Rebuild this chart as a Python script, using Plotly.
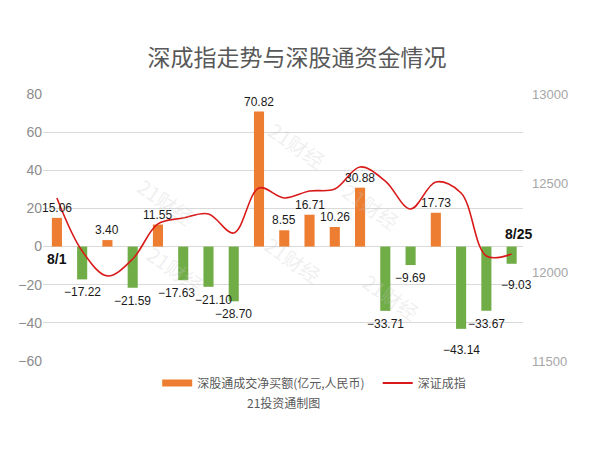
import plotly.graph_objects as go
from plotly.subplots import make_subplots

# trading days, August
dates = ["8/1", "8/2", "8/3", "8/4", "8/7", "8/8", "8/9", "8/10", "8/11", "8/14",
         "8/15", "8/16", "8/17", "8/18", "8/21", "8/22", "8/23", "8/24", "8/25"]

# net buy via Shenzhen-HK connect (100 million yuan)
net_buy = [15.06, -17.22, 3.40, -21.59, 11.55, -17.63, -21.10, -28.70, 70.82, 8.55,
           16.71, 10.26, 30.88, -33.71, -9.69, 17.73, -43.14, -33.67, -9.03]

# Shenzhen component index
szci = [12416, 12118, 11978, 12073, 12270, 12303, 12326, 12219, 12472, 12416,
        12455, 12466, 12590, 12511, 12354, 12506, 12444, 12090, 12101]

left_ticks = [-60, -40, -20, 0, 20, 40, 60, 80]
right_ticks = [11500, 12000, 12500, 13000]

ORANGE = "#ED7D31"
GREEN = "#70AD47"
RED = "#D91A1A"
GREY = "#8C8C8C"

bar_colors = [ORANGE if v >= 0 else GREEN for v in net_buy]
labels = ["%.2f" % v if v >= 0 else "\u2212%.2f" % abs(v) for v in net_buy]
xs = list(range(len(dates)))

# a few labels are nudged in the original so they don't collide (px)
label_dx = {5: -7, 6: 5, 18: 5}
label_dy = {16: -8, 18: -8}

fig = make_subplots(specs=[[{"secondary_y": True}]])

fig.add_trace(go.Bar(
    x=xs, y=net_buy,
    marker=dict(color=bar_colors, line=dict(width=0)),
    showlegend=False,
), secondary_y=False)

fig.add_trace(go.Scatter(
    x=xs, y=szci, mode="lines",
    line=dict(color=RED, width=1.6, shape="spline", smoothing=1.0),
    showlegend=False,
), secondary_y=True)

# legend entries (wide orange swatch like the original)
fig.add_trace(go.Scatter(x=[None], y=[None], mode="lines",
                         line=dict(color=ORANGE, width=7),
                         name="深股通成交净买额(亿元,人民币)\u00a0\u00a0\u00a0"), secondary_y=False)
fig.add_trace(go.Scatter(x=[None], y=[None], mode="lines",
                         line=dict(color=RED, width=2),
                         name="深证成指"), secondary_y=True)

# data labels
for i, (v, t) in enumerate(zip(net_buy, labels)):
    pos = v >= 0
    fig.add_annotation(x=i, y=v, text=t, showarrow=False,
                       yanchor="bottom" if pos else "top",
                       xshift=label_dx.get(i, 0),
                       yshift=(1 if pos else -4) + label_dy.get(i, 0),
                       font=dict(size=12, color="#1a1a1a", family="Liberation Sans"))

# watermark
for wx, wy in [(0.18, 0.72), (0.2, 0.22), (0.53, 0.93), (0.52, 0.38), (0.76, 0.58), (0.8, 0.12)]:
    fig.add_annotation(x=wx, y=wy, xref="paper", yref="paper", text="21财经",
                       showarrow=False, textangle=35,
                       font=dict(size=20, color="rgba(200,200,200,0.28)", family="Noto Sans CJK SC"))

fig.add_annotation(x=0, y=-1.5, text="<b>8/1</b>", showarrow=False,
                   xanchor="center", yanchor="top",
                   font=dict(size=14, color="#111", family="Liberation Sans"))
fig.add_annotation(x=len(dates) - 1, y=1.5, text="<b>8/25</b>", showarrow=False,
                   xanchor="center", yanchor="bottom", xshift=7,
                   font=dict(size=14, color="#111", family="Liberation Sans"))
fig.add_annotation(x=0.5, y=-0.155, xref="paper", yref="paper", text="21投资通制图",
                   showarrow=False, yanchor="middle", font=dict(size=12, color="#595959"))

fig.update_layout(
    width=592, height=469,
    margin=dict(l=35, r=77, t=86, b=116, autoexpand=False),
    paper_bgcolor="white", plot_bgcolor="white",
    font=dict(family="Noto Sans CJK SC, Liberation Sans, sans-serif", color=GREY),
    title=dict(text="深成指走势与深股通资金情况", x=0.488, xanchor="center", y=0.91,
               font=dict(size=23, color="#595959")),
    bargap=0.6,
    showlegend=True,
    legend=dict(orientation="h", x=0.565, xanchor="center", y=-0.082, yanchor="middle",
                font=dict(size=12, color="#595959"), traceorder="normal"),
)

fig.update_xaxes(domain=[0, 1], range=[-0.55, len(dates) - 0.55], showticklabels=False,
                 showgrid=False, zeroline=False, showline=False, automargin=False)
fig.update_yaxes(range=[-60, 80], tickvals=left_ticks, showgrid=True, gridcolor="#D9D9D9",
                 zeroline=True, zerolinecolor="#D9D9D9", zerolinewidth=1, automargin=False,
                 tickfont=dict(size=14, color=GREY, family="Liberation Sans"), ticks="",
                 secondary_y=False)
fig.update_yaxes(range=[11500, 13000], tickvals=right_ticks, tickformat="d",
                 showgrid=False, zeroline=False, automargin=False, ticklabelstandoff=8,
                 tickfont=dict(size=13, color="#A6A6A6", family="Liberation Sans"), ticks="",
                 secondary_y=True)

fig.write_html("out.html")
